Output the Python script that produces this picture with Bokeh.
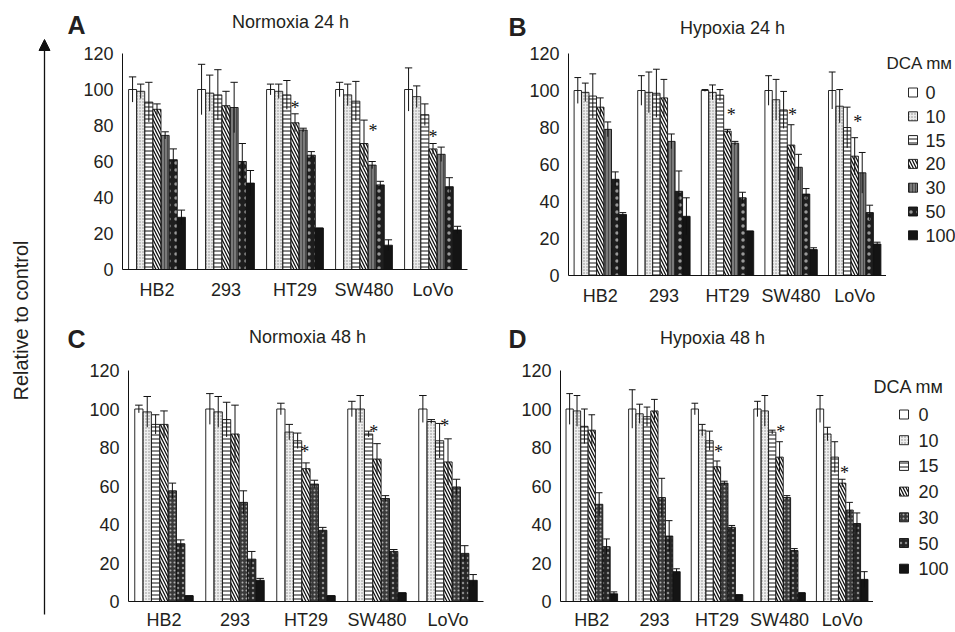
import math
from bokeh.plotting import figure
from bokeh.models import ColumnDataSource, FactorRange, Range1d, Label, Arrow, NormalHead, FixedTicker
from bokeh.transform import dodge
from bokeh.layouts import row, column
from bokeh.embed import file_html
from bokeh.resources import INLINE

# ---------------- data ----------------
cells = ["HB2", "293", "HT29", "SW480", "LoVo"]
doses = ["0", "10", "15", "20", "30", "50", "100"]
y_ticks = [0, 20, 40, 60, 80, 100, 120]

# rows = DCA dose, columns = cell line (HB2, 293, HT29, SW480, LoVo)
a_mean = [[100, 100, 100, 100, 100],
          [99, 98, 99, 97, 96],
          [93, 97, 97, 93.5, 86],
          [89, 91, 81.5, 70, 67],
          [74.5, 90, 77.5, 58, 64],
          [61, 60, 63.5, 47, 46],
          [29, 48, 23, 13.5, 22]]
a_err = [[7, 14, 3, 4, 12],
         [4, 10, 4, 6, 6],
         [11, 14, 8, 11, 6],
         [3, 8, 5, 13, 3],
         [2, 14, 1, 2, 4],
         [6, 10, 2, 2, 5],
         [4, 7, 0, 3, 2]]

b_mean = [[100, 100, 100, 100, 100],
          [99, 99, 99, 95, 91.5],
          [97, 98.5, 97.5, 89.5, 80],
          [91, 96, 78, 70.5, 64.5],
          [79, 72.5, 71.5, 58.5, 55.5],
          [52, 45.5, 42, 44, 34],
          [33, 32, 24, 14, 17]]
b_err = [[7, 8, 0.5, 8, 10],
         [5, 11, 4, 11, 9],
         [12, 13, 3, 10, 11],
         [5, 10, 1, 11, 10],
         [4, 4, 1, 7, 11],
         [4, 11, 3, 3, 4],
         [1, 10, 0, 1, 1]]

c_mean = [[100, 100, 100, 100, 100],
          [98.5, 98.5, 88, 100, 93.5],
          [92, 94.5, 83.5, 87, 83.5],
          [92, 87, 69, 74, 72.5],
          [57.5, 51.5, 61, 53.5, 59.5],
          [30, 22, 37, 26, 25],
          [3, 11, 3, 4.5, 11]]
c_err = [[2, 8, 3, 4, 7],
         [8, 8, 4, 7, 1],
         [5, 9, 4, 1.5, 9],
         [7, 15, 3, 8, 12],
         [4, 6, 2, 1.5, 4],
         [2, 4, 1.5, 1, 4],
         [0, 1, 0, 0, 3]]

d_mean = [[100, 100, 100, 100, 100],
          [99, 97.5, 89, 99, 87],
          [91, 96, 83.5, 88, 75],
          [89, 99, 70, 75, 61.5],
          [50.5, 54, 61.5, 54, 47.5],
          [28.5, 34, 38.5, 26.5, 40.5],
          [4, 15.5, 3.5, 4.5, 11.5]]
d_err = [[8, 10, 3, 4, 7],
         [8, 5, 3, 8, 3.5],
         [9, 5, 5, 1, 8],
         [8, 6, 3, 8, 2],
         [6, 10, 1, 1, 4],
         [4, 8, 1, 1, 5.5],
         [1, 1.5, 0, 0, 4]]

# significance stars: cell line, bar position (dose index), height
star_cells = ["HT29", "SW480", "LoVo"]
a_star_pos = [3.0, 4.1, 3.0]
a_star_y = [92, 79, 76]
b_star_pos = [3.5, 3.2, 3.4]
b_star_y = [89, 89, 85]
c_star_pos = [2.86, 2.6, 2.6]
c_star_y = [80, 90, 93]
d_star_pos = [3.2, 3.16, 3.3]
d_star_y = [80, 90, 69]

panel_letters = ["A", "B", "C", "D"]
panel_titles = ["Normoxia 24 h", "Hypoxia 24 h", "Normoxia 48 h", "Hypoxia 48 h"]
legend_title = "DCA mᴍ"
axis_title = "Relative to control"

# ---------------- styles ----------------
FONT = "Liberation Sans"
TXT = "#231f20"
BW = 0.118  # bar width in category units

style_24 = [
    dict(fill_color="white"),
    dict(fill_color="#ebebeb", hatch_pattern="dot", hatch_color="#8a8a8a", hatch_scale=3, hatch_weight=1),
    dict(fill_color="white", hatch_pattern="horizontal_line", hatch_color="#111", hatch_scale=4, hatch_weight=1),
    dict(fill_color="white", hatch_pattern="left_diagonal_line", hatch_color="#111", hatch_scale=6, hatch_weight=1.3),
    dict(fill_color="#7a7a7a", hatch_pattern="vertical_line", hatch_color="#4a4a4a", hatch_scale=3, hatch_weight=1),
    dict(fill_color="#1e1e1e", hatch_pattern="dot", hatch_color="#9a9a9a", hatch_scale=7, hatch_weight=1),
    dict(fill_color="#141414"),
]
style_48 = [
    dict(fill_color="white"),
    dict(fill_color="#efefef", hatch_pattern="dot", hatch_color="#8a8a8a", hatch_scale=3, hatch_weight=1),
    dict(fill_color="white", hatch_pattern="horizontal_line", hatch_color="#111", hatch_scale=4, hatch_weight=1),
    dict(fill_color="white", hatch_pattern="left_diagonal_line", hatch_color="#111", hatch_scale=6, hatch_weight=1.3),
    dict(fill_color="#3a3a3a", hatch_pattern="dot", hatch_color="#b0b0b0", hatch_scale=4, hatch_weight=1),
    dict(fill_color="#262626", hatch_pattern="dot", hatch_color="#8c8c8c", hatch_scale=5, hatch_weight=1),
    dict(fill_color="#141414"),
]


def blank(width, height, bt=0, bb=0):
    """A figure without axes; data units equal pixels inside its frame."""
    f = figure(width=width, height=height, x_range=Range1d(0, width), y_range=Range1d(0, height - bt - bb),
               x_axis_type=None, y_axis_type=None, output_backend="svg", toolbar_location=None,
               min_border_left=0, min_border_right=0, min_border_top=bt, min_border_bottom=bb)
    f.outline_line_color = None
    f.grid.visible = False
    return f


def text_label(f, x, y, text, size="18px", align="left", bold=False, angle=0.0):
    f.add_layout(Label(x=x, y=y, text=text, text_font=FONT, text_font_size=size,
                       text_font_style="bold" if bold else "normal", text_align=align,
                       text_baseline="middle", text_color=TXT, angle=angle))


def panel(mean, err, star_pos, star_y, styles, width, height, bl, br, bt, bb, x_standoff):
    p = figure(x_range=FactorRange(*cells, range_padding=0), y_range=Range1d(0, 120),
               width=width, height=height, output_backend="svg", toolbar_location=None,
               min_border_left=bl, min_border_right=br, min_border_top=bt, min_border_bottom=bb)
    p.outline_line_color = None
    p.grid.visible = False

    sources = []
    for i, d in enumerate(doses):
        off = (i - 3) * BW
        src = ColumnDataSource(dict(cell=cells, top=mean[i],
                                    upper=[m + e for m, e in zip(mean[i], err[i])],
                                    lower=[m - e for m, e in zip(mean[i], err[i])]))
        p.vbar(x=dodge("cell", off, range=p.x_range), top="top", width=BW * 0.98, source=src,
               line_color="#111", line_width=0.9, **styles[i])
        sources.append((src, off))
    for src, off in sources:
        p.segment(x0=dodge("cell", off, range=p.x_range), x1=dodge("cell", off, range=p.x_range),
                  y0="lower", y1="upper", source=src, line_color="#111", line_width=1)
        p.segment(x0=dodge("cell", off - BW * 0.45, range=p.x_range),
                  x1=dodge("cell", off + BW * 0.45, range=p.x_range),
                  y0="upper", y1="upper", source=src, line_color="#111", line_width=1)

    for c, pos, y in zip(star_cells, star_pos, star_y):
        s = ColumnDataSource(dict(cell=[c], y=[y], t=["*"]))
        p.text(x=dodge("cell", (pos - 3) * BW, range=p.x_range), y="y", text="t", source=s,
               text_align="center", text_baseline="middle", y_offset=4,
               text_font_size="18px", text_font=FONT, text_color="#111")

    p.yaxis.ticker = FixedTicker(ticks=y_ticks)
    for ax in (p.xaxis, p.yaxis):
        ax.axis_line_color = "#111"
        ax.axis_line_width = 1
        ax.major_tick_line_color = None
        ax.minor_tick_line_color = None
        ax.major_tick_out = 0
        ax.major_tick_in = 0
        ax.major_label_text_font = FONT
        ax.major_label_text_font_size = "18px"
        ax.major_label_text_color = TXT
    p.yaxis.major_label_standoff = 9
    p.xaxis.major_label_standoff = x_standoff
    return p


def legend_fig(styles, width, height, bt, bb, sw_x, lab_x, y0, step, title_xy, title_size):
    """Key drawn in its own strip: swatch + dose label, top to bottom."""
    f = blank(width, height, bt, bb)
    for i, d in enumerate(doses):
        y = y0 - i * step
        f.rect(x=[sw_x], y=[y], width=9, height=9, line_color="#111", line_width=0.9, **styles[i])
        text_label(f, lab_x, y, d)
    text_label(f, title_xy[0], title_xy[1], legend_title, size=title_size)
    return f


# ---- left strip (x 0..60) ----
pL = blank(60, 632)
pL.add_layout(Arrow(end=NormalHead(size=11, fill_color="#111", line_color="#111"),
                    x_start=44, y_start=18, x_end=44, y_end=593, line_color="#111", line_width=1.3))
text_label(pL, 20, 312, axis_title, size="20px", align="center", angle=math.pi / 2)

# ---- row 1 header (x 60..955, y 0..40) ----
h1 = blank(895, 40)
text_label(h1, 7, 16, panel_letters[0], size="25px", bold=True)
text_label(h1, 230, 19, panel_titles[0], align="center")
text_label(h1, 448, 13.5, panel_letters[1], size="25px", bold=True)
text_label(h1, 672, 12.5, panel_titles[1], align="center")

# ---- row 1 plots (y 40..316); frames start at y 53 ----
pA = panel(a_mean, a_err, a_star_pos, a_star_y, style_24, 420, 270, 62, 13, 13, 41, 10)
pB = panel(b_mean, b_err, b_star_pos, b_star_y, style_24, 406, 276, 88, 0, 13, 41, 10)
# legend strip frame spans y 53..275 (222 px); data y = 275 - page y
lB = legend_fig(style_24, 69, 276, 13, 41, 26.5, 39, 183, 23.8, (0, 212.5), "17px")

# ---- row 2 header (x 60..955, y 316..360) ----
h2 = blank(895, 44)
text_label(h2, 7, 21.5, panel_letters[2], size="25px", bold=True)
text_label(h2, 247, 23.5, panel_titles[2], align="center")
text_label(h2, 448, 21.5, panel_letters[3], size="25px", bold=True)
text_label(h2, 652, 22.5, panel_titles[3], align="center")

# ---- row 2 plots (y 360..632); frames span y 370..601 ----
pC = panel(c_mean, c_err, c_star_pos, c_star_y, style_48, 430, 272, 68, 7, 10, 31, 8)
pD = panel(d_mean, d_err, d_star_pos, d_star_y, style_48, 383, 272, 70, 0, 10, 31, 8)
# data y = 601 - page y
lD = legend_fig(style_48, 82, 272, 10, 31, 30.5, 45, 187, 25.7, (0, 214.5), "18px")

layout = row(pL, column(h1, row(pA, pB, lB), h2, row(pC, pD, lD)))

open("out.html", "w").write(file_html(layout, INLINE))
